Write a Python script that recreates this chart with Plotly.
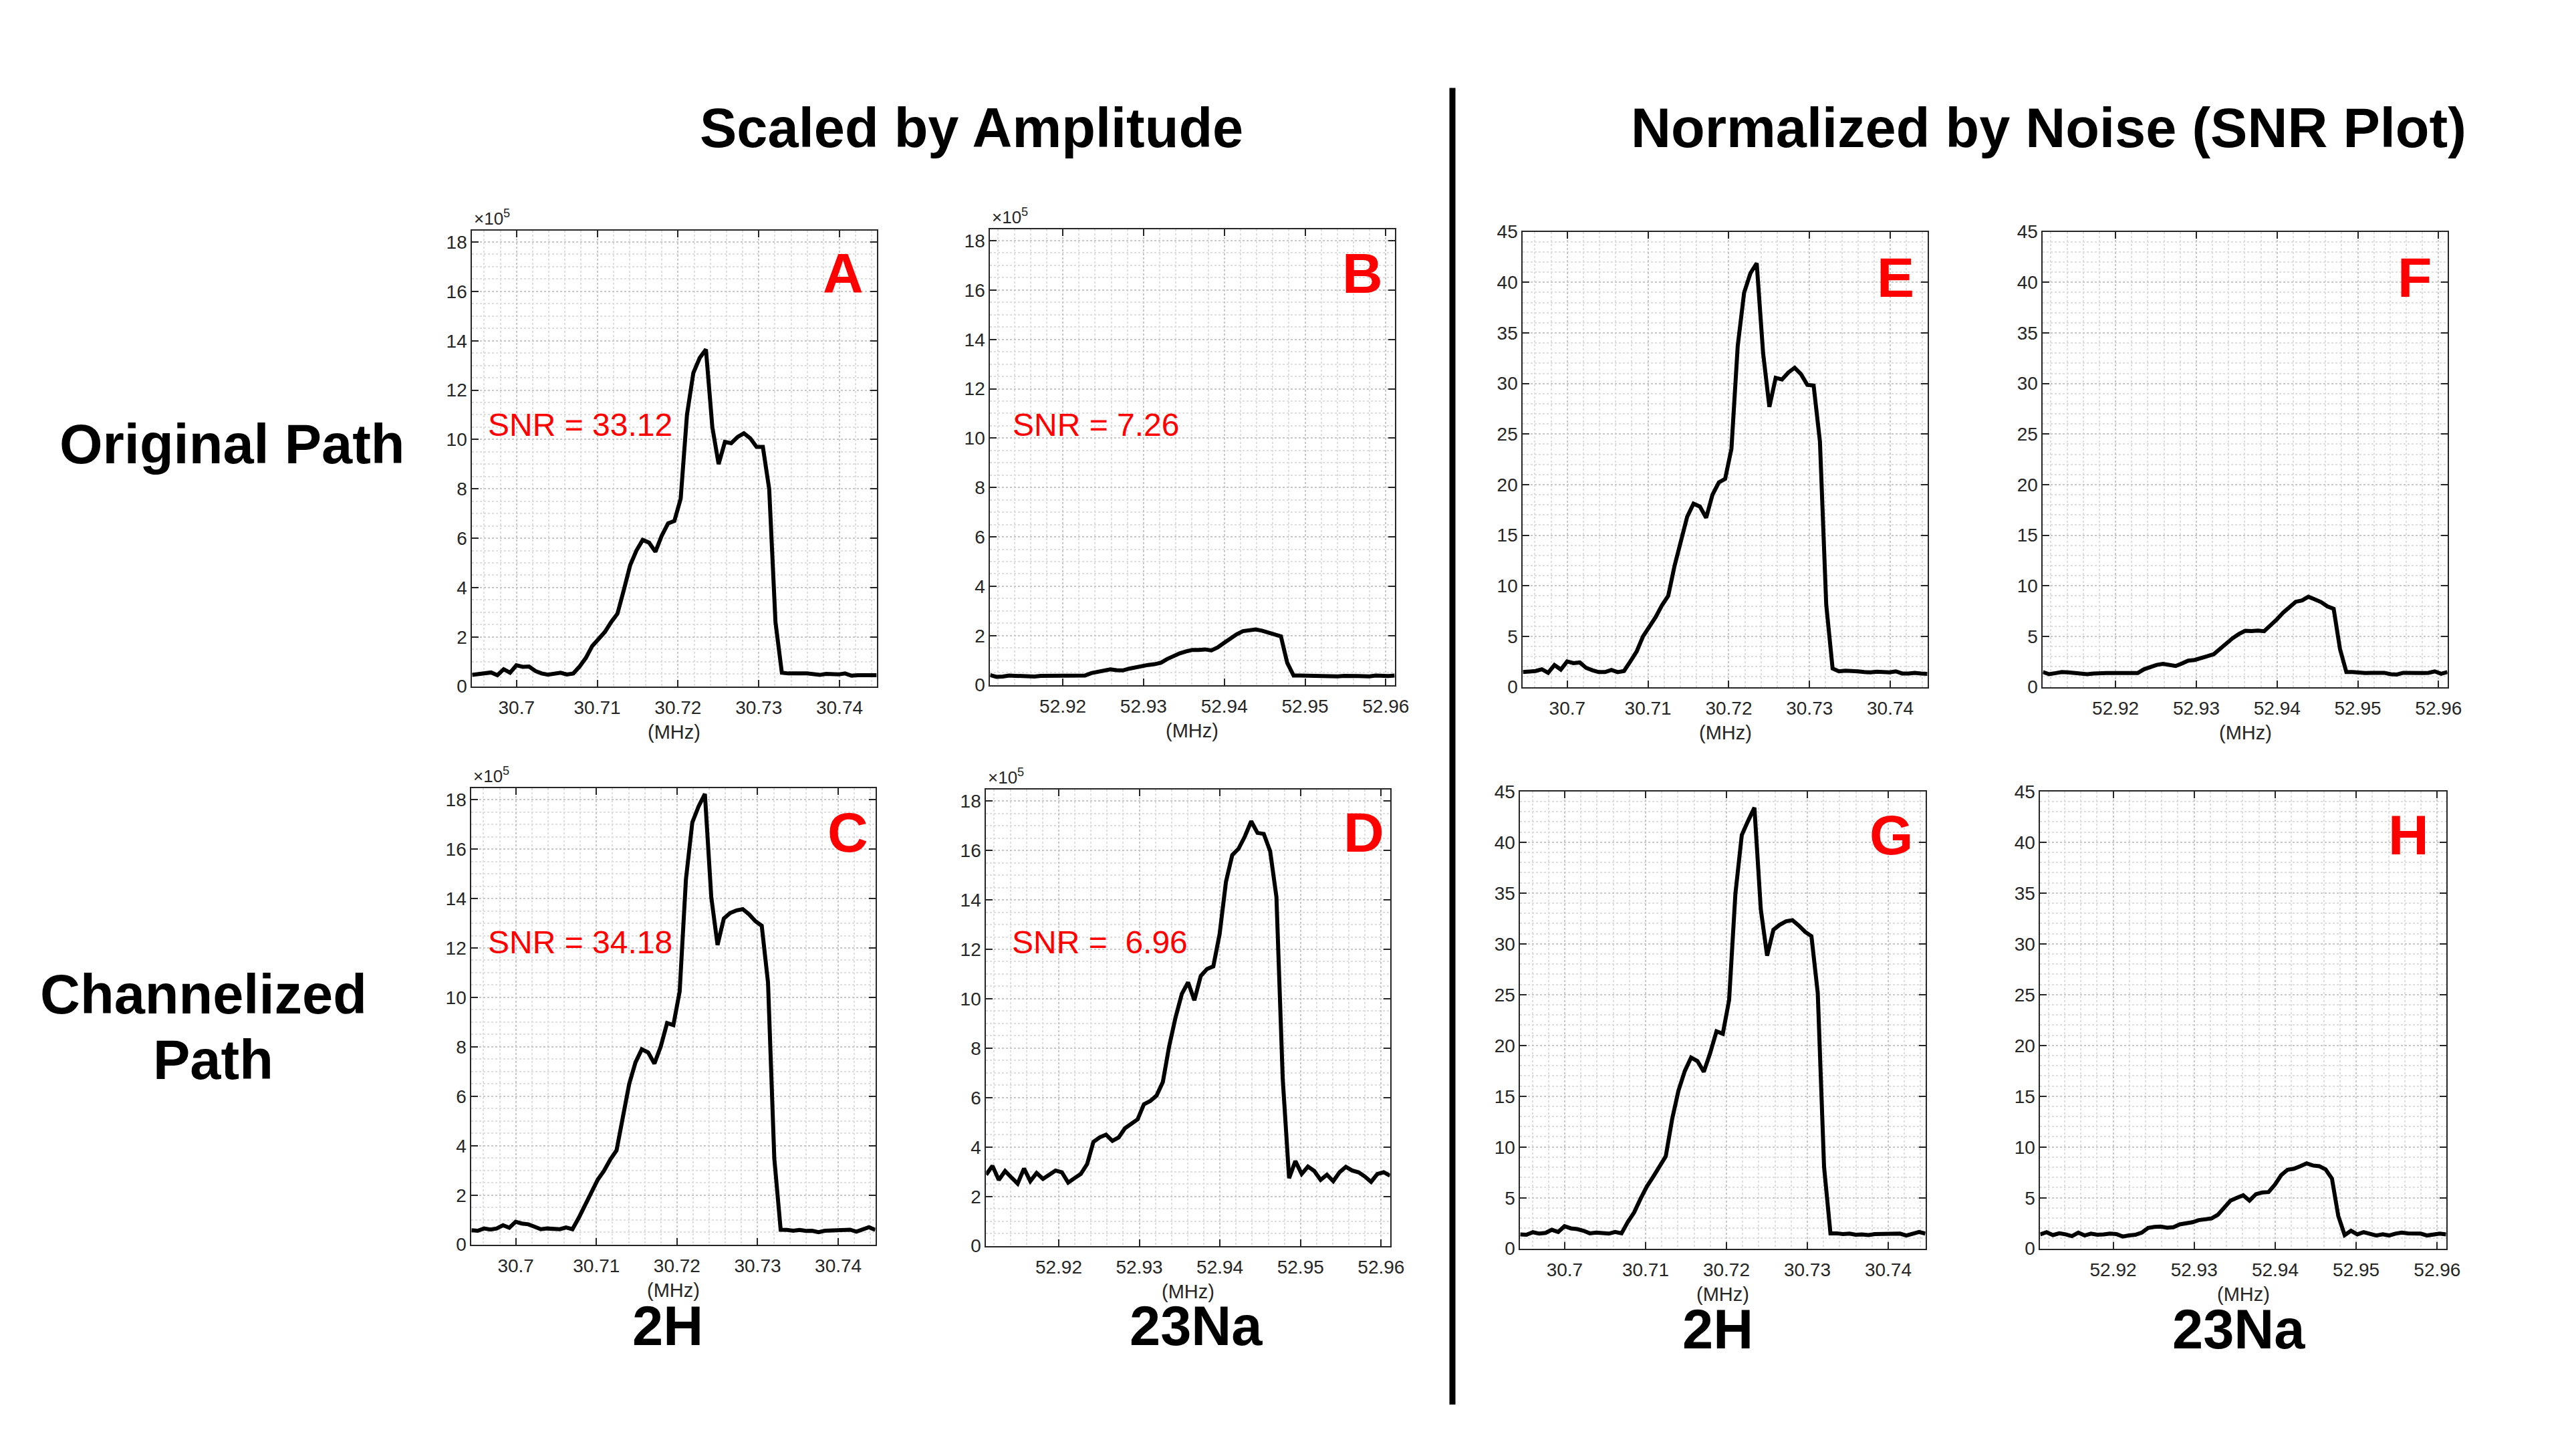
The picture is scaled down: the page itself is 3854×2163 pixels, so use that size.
import plotly.graph_objects as go

# ---------------- data ----------------
freq_2H = [30.69450, 30.69528, 30.69607, 30.69685, 30.69763, 30.69841, 30.69920, 30.69998,
           30.70076, 30.70155, 30.70233, 30.70311, 30.70389, 30.70468, 30.70546, 30.70624,
           30.70703, 30.70781, 30.70859, 30.70937, 30.71016, 30.71094, 30.71172, 30.71250,
           30.71329, 30.71407, 30.71485, 30.71563, 30.71642, 30.71720, 30.71798, 30.71877,
           30.71955, 30.72033, 30.72111, 30.72190, 30.72268, 30.72346, 30.72425, 30.72503,
           30.72581, 30.72659, 30.72738, 30.72816, 30.72894, 30.72973, 30.73051, 30.73129,
           30.73207, 30.73286, 30.73364, 30.73442, 30.73521, 30.73599, 30.73677, 30.73755,
           30.73834, 30.73912, 30.73990, 30.74069, 30.74147, 30.74225, 30.74303, 30.74382,
           30.74460]
freq_23Na = [52.91100, 52.91178, 52.91257, 52.91335, 52.91413, 52.91491, 52.91570, 52.91648,
             52.91726, 52.91805, 52.91883, 52.91961, 52.92039, 52.92118, 52.92196, 52.92274,
             52.92353, 52.92431, 52.92509, 52.92587, 52.92666, 52.92744, 52.92822, 52.92900,
             52.92979, 52.93057, 52.93135, 52.93214, 52.93292, 52.93370, 52.93448, 52.93527,
             52.93605, 52.93683, 52.93762, 52.93840, 52.93918, 52.93996, 52.94075, 52.94153,
             52.94231, 52.94310, 52.94388, 52.94466, 52.94544, 52.94623, 52.94701, 52.94779,
             52.94858, 52.94936, 52.95014, 52.95092, 52.95171, 52.95249, 52.95327, 52.95406,
             52.95484, 52.95562, 52.95640, 52.95719, 52.95797, 52.95875, 52.95953, 52.96032,
             52.96110]

# amplitude panels, in units of 1e5
amp_orig_2H = [0.46, 0.49, 0.52, 0.56, 0.45, 0.69, 0.55, 0.85, 0.79, 0.80, 0.62, 0.52, 0.47, 0.50, 0.55, 0.48, 0.52,
               0.80, 1.15, 1.63, 1.92, 2.20, 2.60, 2.94, 3.90, 4.90, 5.50, 5.93, 5.82, 5.45, 6.10, 6.60, 6.70,
               7.60, 11.0, 12.7, 13.3, 13.65, 10.5, 9.0, 9.9, 9.85, 10.1, 10.25, 10.05, 9.7, 9.7, 8.0, 2.6, 0.55,
               0.52, 0.50, 0.52, 0.52, 0.49, 0.46, 0.50, 0.49, 0.48, 0.52, 0.43, 0.45, 0.46, 0.43, 0.45]
amp_orig_23Na = [0.40, 0.33, 0.34, 0.38, 0.37, 0.35, 0.34, 0.34, 0.37, 0.37, 0.37, 0.37, 0.37, 0.38, 0.38, 0.38,
                 0.48, 0.52, 0.57, 0.63, 0.60, 0.59, 0.66, 0.72, 0.75, 0.81, 0.84, 0.90, 1.05, 1.17, 1.28, 1.36,
                 1.42, 1.42, 1.44, 1.40, 1.52, 1.70, 1.88, 2.05, 2.18, 2.22, 2.25, 2.20, 2.13, 2.05, 1.97, 0.90,
                 0.38, 0.38, 0.37, 0.36, 0.37, 0.37, 0.36, 0.35, 0.37, 0.36, 0.36, 0.36, 0.35, 0.38, 0.35, 0.36,
                 0.38]
amp_chan_2H = [0.58, 0.56, 0.65, 0.61, 0.65, 0.78, 0.68, 0.92, 0.85, 0.82, 0.72, 0.62, 0.65, 0.62, 0.62, 0.69, 0.62,
               1.08, 1.57, 2.12, 2.62, 2.98, 3.44, 3.81, 5.28, 6.50, 7.37, 7.90, 7.77, 7.32, 8.01, 8.96, 8.88,
               10.24, 14.78, 17.08, 17.73, 18.23, 14.06, 12.12, 13.19, 13.41, 13.52, 13.57, 13.36, 13.08, 12.90,
               10.60, 3.48, 0.60,
               0.59, 0.56, 0.59, 0.55, 0.56, 0.50, 0.56, 0.56, 0.59, 0.60, 0.60, 0.52, 0.63, 0.70, 0.59]
amp_chan_23Na = [2.88, 3.24, 2.67, 3.03, 2.77, 2.52, 3.13, 2.62, 2.95, 2.71, 2.88, 3.05, 2.98, 2.56, 2.74, 2.91,
                 3.31, 4.21, 4.39, 4.50, 4.25, 4.39, 4.76, 4.93, 5.12, 5.73, 5.86, 6.08, 6.63, 8.07, 9.22, 10.19,
                 10.66, 9.94, 10.92, 11.20, 11.31, 12.61, 14.73, 15.81, 16.07, 16.57, 17.18, 16.71, 16.67, 15.97,
                 14.12, 6.77, 2.74, 3.43, 2.91, 3.21, 3.03, 2.67, 2.88, 2.62, 2.98, 3.20, 3.05, 2.98, 2.81, 2.59,
                 2.91, 2.98, 2.84]

# SNR panels
snr_orig_2H = [1.47, 1.54, 1.58, 1.75, 1.40, 2.17, 1.72, 2.52, 2.35, 2.42, 1.89, 1.65, 1.47, 1.47, 1.68, 1.47, 1.58,
               2.52, 3.50, 4.98, 5.96, 6.90, 8.06, 9.00, 11.99, 14.60, 16.82, 18.12, 17.84, 16.72, 19.00, 20.22,
               20.57, 23.55, 33.72, 38.98, 40.90, 41.89, 33.02, 27.69, 30.56, 30.39, 31.09, 31.55, 30.92, 29.86,
               29.80, 24.26, 8.13, 1.82,
               1.54, 1.61, 1.61, 1.54, 1.47, 1.44, 1.51, 1.47, 1.44, 1.54, 1.33, 1.33, 1.40, 1.33, 1.30]
snr_orig_23Na = [1.47, 1.26, 1.37, 1.47, 1.44, 1.40, 1.30, 1.26, 1.33, 1.40, 1.37, 1.37, 1.37, 1.40, 1.44, 1.37, 1.75,
                 1.97, 2.18, 2.28, 2.18, 2.07, 2.32, 2.60, 2.67, 2.88, 3.12, 3.23, 3.76, 4.35, 4.81, 5.23, 5.55,
                 5.52, 5.58, 5.51, 6.04, 6.67, 7.34, 7.93, 8.42, 8.56, 8.92, 8.67, 8.39, 7.97, 7.72, 3.76, 1.47,
                 1.47,
                 1.37, 1.37, 1.40, 1.40, 1.40, 1.26, 1.23, 1.40, 1.37, 1.37, 1.37, 1.40, 1.54, 1.30, 1.47]
snr_chan_2H = [1.40, 1.36, 1.61, 1.47, 1.54, 1.85, 1.64, 2.20, 1.99, 1.92, 1.75, 1.50, 1.57, 1.47, 1.47, 1.64, 1.50,
               2.62, 3.56, 4.89, 6.11, 7.06, 8.14, 9.08, 12.75, 15.55, 17.47, 18.80, 18.45, 17.40, 19.22, 21.38,
               21.14, 24.46, 34.94, 40.71, 42.10, 43.40, 33.37, 28.83, 31.38, 31.87, 32.22, 32.32, 31.80, 31.17,
               30.75, 25.16, 8.04, 1.50,
               1.50, 1.43, 1.47, 1.36, 1.40, 1.33, 1.43, 1.43, 1.47, 1.47, 1.47, 1.29, 1.43, 1.64, 1.47]
snr_chan_23Na = [1.40, 1.61, 1.33, 1.50, 1.40, 1.22, 1.57, 1.29, 1.47, 1.36, 1.40, 1.47, 1.43, 1.19, 1.29, 1.36, 1.57,
                 2.03, 2.13, 2.17, 2.06, 2.10, 2.38, 2.45, 2.59, 2.80, 2.87, 2.97, 3.32, 4.02, 4.72, 5.00, 5.24,
                 4.72, 5.35, 5.52, 5.56, 6.29, 7.23, 7.76, 7.86, 8.11, 8.39, 8.18, 8.11, 7.79, 6.88, 3.21, 1.33,
                 1.75,
                 1.40, 1.61, 1.47, 1.29, 1.40, 1.29, 1.47, 1.57, 1.50, 1.50, 1.47, 1.29, 1.40, 1.47, 1.40]

x_ticks_2H = [30.70, 30.71, 30.72, 30.73, 30.74]
x_ticklabels_2H = ["30.7", "30.71", "30.72", "30.73", "30.74"]
x_ticks_23Na = [52.92, 52.93, 52.94, 52.95, 52.96]
x_ticklabels_23Na = ["52.92", "52.93", "52.94", "52.95", "52.96"]
y_ticks_amp = [0, 2, 4, 6, 8, 10, 12, 14, 16, 18]
y_ticks_snr = [0, 5, 10, 15, 20, 25, 30, 35, 40, 45]

panel_letters = ["A", "B", "C", "D", "E", "F", "G", "H"]
snr_texts = ["SNR = 33.12", "SNR = 7.26", "SNR = 34.18", "SNR = \u00a06.96"]
column_titles = ["Scaled by Amplitude", "Normalized by Noise (SNR Plot)"]
row_titles = ["Original Path", "Channelized", "Path"]
nucleus_labels = ["2H", "23Na", "2H", "23Na"]
x_unit = "(MHz)"

# ---------------- layout helpers ----------------
W, H = 3854, 2163
FONT = "Liberation Sans, Arial, Helvetica, sans-serif"
AX = "#262626"


def px(x):
    # pixel column -> paper fraction (small calibration applied)
    return (1.0045 * x + 1.2) / W


def py(y):
    # pixel row (from top) -> paper fraction (small calibration applied)
    return 1 - (1.01587 * y - 16.0) / H


# panel boxes in pixels: (x_left, x_right, y_top, y_bottom)
boxes = [
    (706, 1312, 345, 1026),    # A
    (1482, 2088, 343, 1024),   # B
    (705, 1310, 1178, 1860),   # C
    (1476, 2081, 1180, 1862),  # D
    (2280, 2886, 347, 1027),   # E
    (3059, 3665, 347, 1027),   # F
    (2276, 2883, 1183, 1866),  # G
    (3055, 3663, 1183, 1866),  # H
]
letter_pos = [(1262, 409), (2040, 409), (1269, 1244), (2042, 1244),
              (2838, 415), (3616, 415), (2832, 1248), (3607, 1248)]
snr_pos = [(728, 635), (1514, 635), (728, 1408), (1513, 1408)]

series = [amp_orig_2H, amp_orig_23Na, amp_chan_2H, amp_chan_23Na,
          snr_orig_2H, snr_orig_23Na, snr_chan_2H, snr_chan_23Na]
is_2H = [True, False, True, False, True, False, True, False]
is_amp = [True, True, True, True, False, False, False, False]

fig = go.Figure()
layout = dict(width=W, height=H, margin=dict(l=0, r=0, t=0, b=0),
              paper_bgcolor="white", plot_bgcolor="white", showlegend=False,
              autosize=False)
annotations = []

for i in range(8):
    n = "" if i == 0 else str(i + 1)
    x0, x1, y0, y1 = boxes[i]
    xs = freq_2H if is_2H[i] else freq_23Na
    fig.add_trace(go.Scatter(x=xs, y=series[i], mode="lines",
                             line=dict(color="black", width=6),
                             xaxis="x" + n, yaxis="y" + n, hoverinfo="skip"))
    common = dict(showline=True, linecolor=AX, linewidth=2, mirror="ticks",
                  ticks="inside", ticklen=10, tickwidth=2, tickcolor=AX,
                  tickfont=dict(family=FONT, size=28, color=AX),
                  showgrid=True, gridcolor="#c8c8c8", griddash="dot", gridwidth=1.5,
                  zeroline=False, fixedrange=True)
    if is_2H[i]:
        xr = [freq_2H[0], freq_2H[-1]]
        xt, xl, t0 = x_ticks_2H, x_ticklabels_2H, 30.70
    else:
        xr = [freq_23Na[0], freq_23Na[-1]]
        xt, xl, t0 = x_ticks_23Na, x_ticklabels_23Na, 52.92
    xa = dict(common, domain=[px(x0), px(x1)], range=xr, anchor="y" + n,
              tickmode="array", tickvals=xt, ticktext=xl, ticklabelstandoff=6,
              minor=dict(tickmode="linear", tick0=t0, dtick=0.002, showgrid=True,
                         gridcolor="#dedede", griddash="dot", gridwidth=1.5, ticks=""))
    if is_amp[i]:
        yr, yt, ymd = [0, 18.47], y_ticks_amp, 0.5
    else:
        yr, yt, ymd = [0, 45], y_ticks_snr, 1
    ya = dict(common, domain=[py(y1), py(y0)], range=yr, anchor="x" + n,
              tickmode="array", tickvals=yt, ticktext=[str(v) for v in yt],
              minor=dict(tickmode="linear", tick0=0, dtick=ymd, showgrid=True,
                         gridcolor="#dedede", griddash="dot", gridwidth=1.5, ticks=""))
    layout["xaxis" + n] = xa
    layout["yaxis" + n] = ya

    # panel letter
    lx, ly = letter_pos[i]
    annotations.append(dict(x=px(lx), y=py(ly), xref="paper", yref="paper",
                            text="<b>%s</b>" % panel_letters[i], showarrow=False,
                            xanchor="center", yanchor="middle",
                            font=dict(family=FONT, size=84, color="#ff0000")))
    # x unit label
    annotations.append(dict(x=px((x0 + x1) / 2), y=py(y1 + 68), xref="paper", yref="paper",
                            text=x_unit, showarrow=False, xanchor="center", yanchor="middle",
                            font=dict(family=FONT, size=29, color=AX)))
    if is_amp[i]:
        annotations.append(dict(x=px(x0 + 1), y=py(y0 - 1), xref="paper", yref="paper",
                                text="\u00d710<sup>5</sup>", showarrow=False,
                                xanchor="left", yanchor="bottom",
                                font=dict(family=FONT, size=26, color=AX)))
        sx, sy = snr_pos[i]
        annotations.append(dict(x=px(sx), y=py(sy), xref="paper", yref="paper",
                                text=snr_texts[i], showarrow=False,
                                xanchor="left", yanchor="middle",
                                font=dict(family=FONT, size=48, color="#ff0000")))

big = dict(family=FONT, size=83, color="black")
for txt, (cx, cy) in zip(column_titles, [(1454, 192), (3068, 192)]):
    annotations.append(dict(x=px(cx), y=py(cy), xref="paper", yref="paper",
                            text="<b>%s</b>" % txt, showarrow=False,
                            xanchor="center", yanchor="middle", font=big))
for txt, (cx, cy) in zip(row_titles, [(347, 664), (304, 1486), (318, 1584)]):
    annotations.append(dict(x=px(cx), y=py(cy), xref="paper", yref="paper",
                            text="<b>%s</b>" % txt, showarrow=False,
                            xanchor="center", yanchor="middle", font=big))
for txt, (cx, cy) in zip(nucleus_labels, [(999, 1982), (1791, 1982), (2572, 1987), (3352, 1987)]):
    annotations.append(dict(x=px(cx), y=py(cy), xref="paper", yref="paper",
                            text="<b>%s</b>" % txt, showarrow=False,
                            xanchor="center", yanchor="middle", font=big))

layout["annotations"] = annotations
layout["shapes"] = [dict(type="line", xref="paper", yref="paper",
                         x0=px(2174.5), x1=px(2174.5), y0=py(132), y1=py(2099),
                         line=dict(color="black", width=9))]
fig.update_layout(**layout)
fig.write_html("out.html", config={"displayModeBar": False},
               post_script="document.body.style.margin='0px';document.body.style.padding='0px';")
